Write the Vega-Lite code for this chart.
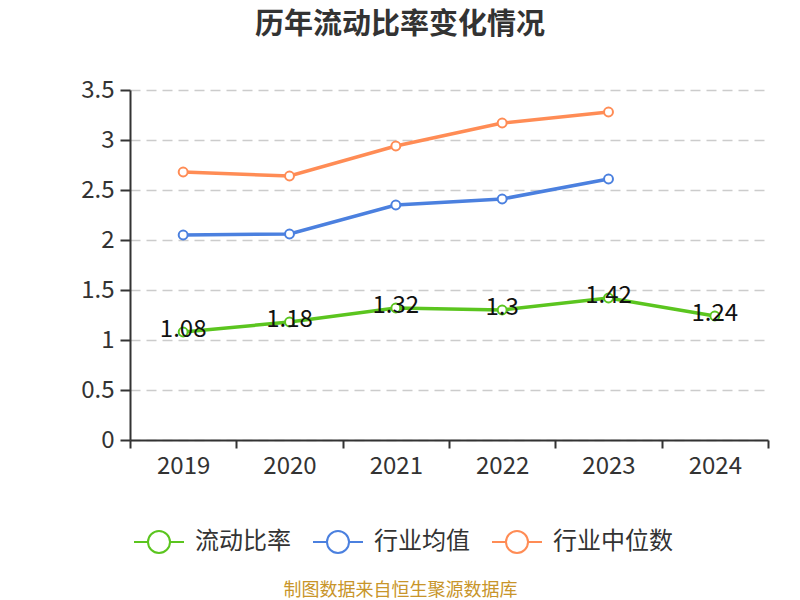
{
  "$schema": "https://vega.github.io/schema/vega-lite/v6.json",
  "width": 638,
  "height": 350,
  "autosize": {"type": "none"},
  "padding": {"left": 130, "top": 90, "right": 32, "bottom": 160},
  "background": "white",
  "title": {
    "text": "历年流动比率变化情况",
    "font": "Noto Sans CJK SC",
    "fontSize": 29,
    "fontWeight": "bold",
    "color": "#333333",
    "anchor": "middle",
    "frame": "group",
    "dx": -49,
    "baseline": "bottom",
    "offset": 9
  },
  "config": {
    "view": {"stroke": null},
    "font": "Noto Sans CJK SC",
    "text": {"font": "Noto Sans CJK SC"}
  },
  "data": {
    "values": [
      {"year": "2019", "series": "流动比率", "value": 1.08},
      {"year": "2020", "series": "流动比率", "value": 1.18},
      {"year": "2021", "series": "流动比率", "value": 1.32},
      {"year": "2022", "series": "流动比率", "value": 1.3},
      {"year": "2023", "series": "流动比率", "value": 1.42},
      {"year": "2024", "series": "流动比率", "value": 1.24},
      {"year": "2019", "series": "行业均值", "value": 2.05},
      {"year": "2020", "series": "行业均值", "value": 2.06},
      {"year": "2021", "series": "行业均值", "value": 2.35},
      {"year": "2022", "series": "行业均值", "value": 2.41},
      {"year": "2023", "series": "行业均值", "value": 2.61},
      {"year": "2019", "series": "行业中位数", "value": 2.68},
      {"year": "2020", "series": "行业中位数", "value": 2.64},
      {"year": "2021", "series": "行业中位数", "value": 2.94},
      {"year": "2022", "series": "行业中位数", "value": 3.17},
      {"year": "2023", "series": "行业中位数", "value": 3.28}
    ]
  },
  "encoding": {
    "x": {
      "field": "year",
      "type": "nominal",
      "sort": ["2019", "2020", "2021", "2022", "2023", "2024"],
      "scale": {"type": "band", "paddingInner": 0, "paddingOuter": 0},
      "axis": {
        "title": "制图数据来自恒生聚源数据库",
        "titleColor": "#C8952A",
        "titleFont": "Noto Sans CJK SC",
        "titleFontSize": 18,
        "titleFontWeight": "normal",
        "titleX": 270,
        "titleY": 150,
        "titleBaseline": "middle",
        "labelAngle": 0,
        "labelFontSize": 24,
        "labelColor": "#333333",
        "labelPadding": 6,
        "tickBand": "extent",
        "tickSize": 8,
        "tickWidth": 2,
        "tickColor": "#333333",
        "domainColor": "#333333",
        "domainWidth": 2,
        "grid": false
      }
    },
    "y": {
      "field": "value",
      "type": "quantitative",
      "scale": {"domain": [0, 3.5], "nice": false},
      "axis": {
        "title": null,
        "values": [0, 0.5, 1, 1.5, 2, 2.5, 3, 3.5],
        "format": "~g",
        "labelFontSize": 24,
        "labelColor": "#333333",
        "labelPadding": 6,
        "tickSize": 10,
        "tickWidth": 2,
        "tickColor": "#333333",
        "domainColor": "#333333",
        "domainWidth": 2,
        "grid": true,
        "gridColor": "#cccccc",
        "gridWidth": 1.5,
        "gridDash": [10, 6]
      }
    },
    "color": {
      "field": "series",
      "type": "nominal",
      "scale": {
        "domain": ["流动比率", "行业均值", "行业中位数"],
        "range": ["#5BC51F", "#4B80DF", "#FF8C55"]
      },
      "legend": {
        "title": null,
        "orient": "none",
        "direction": "horizontal",
        "legendX": 3,
        "legendY": 426,
        "symbolType": "M-1,0H-0.44M0.44,0H1M-0.44,0A0.44,0.44,0,1,1,0.44,0A0.44,0.44,0,1,1,-0.44,0Z",
        "symbolSize": 2500,
        "symbolStrokeWidth": 2,
        "labelFontSize": 24,
        "labelColor": "#333333",
        "labelFont": "Noto Sans CJK SC",
        "labelOffset": 10,
        "columnPadding": 18,
        "encode": {
          "symbols": {"update": {"fill": {"value": "white"}, "strokeWidth": {"value": 2}}}
        }
      }
    }
  },
  "layer": [
    {"mark": {"type": "line", "strokeWidth": 3.5}},
    {"mark": {"type": "point", "filled": false, "fill": "white", "fillOpacity": 1, "opacity": 1, "strokeWidth": 2, "size": 80}},
    {
      "transform": [{"filter": "datum.series === '流动比率'"}],
      "mark": {"type": "text", "fontSize": 24, "color": "#111111", "baseline": "middle", "dy": -2},
      "encoding": {
        "text": {"field": "value", "type": "quantitative", "format": "~g"},
        "color": {"value": "#111111"}
      }
    }
  ]
}
